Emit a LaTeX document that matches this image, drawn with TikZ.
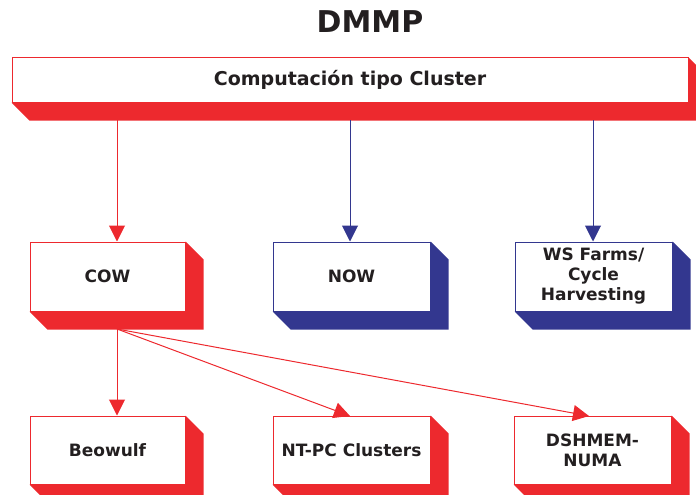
\documentclass[tikz,border=0pt]{standalone}
\usepackage{fontspec}
\setmainfont{DejaVu Sans}
\usetikzlibrary{calc,arrows.meta}
\definecolor{boxred}{RGB}{237,41,46}
\definecolor{boxblue}{RGB}{51,55,143}
\definecolor{ink}{RGB}{35,31,32}
\tikzstyle{rbox}=[draw=boxred,fill=white,line width=1pt,inner sep=0pt,align=center,font=\bfseries\fontsize{17}{20}\selectfont,text=ink]
\tikzstyle{bbox}=[rbox,draw=boxblue]
\tikzstyle{rarrow}=[draw=boxred,line width=1pt,-{Triangle[length=16pt,width=16pt]}]
\tikzstyle{barrow}=[rarrow,draw=boxblue]
% extrusion of a box, 18 px down and right
\newcommand{\depth}[2]{%
  \fill[#2] (#1.north east) -- ($(#1.north east)+(18,18)$) -- ($(#1.south east)+(18,18)$)
    -- ($(#1.south west)+(18,18)$) -- (#1.south west) -- (#1.south east) -- cycle;}

\begin{document}
\begin{tikzpicture}[x=1pt,y=-1pt]

      \useasboundingbox (0,0) rectangle (696,495);
      \clip (0,0) rectangle (696,495);

      \node (title) at (370,22) [font=\bfseries\fontsize{30}{36}\selectfont,text=ink] {DMMP};

      \node (cluster) at (350,80) [rbox,minimum width=676pt,minimum height=44pt,font=\bfseries\fontsize{19}{22}\selectfont] {Computación tipo Cluster};

      \node (cow) at (107.5,276.5) [rbox,minimum width=155pt,minimum height=69pt] {COW};
      \node (now) at (351.5,276.5) [bbox,minimum width=157pt,minimum height=69pt] {NOW};
      \node (ws) at (593.5,276.5) [bbox,minimum width=157pt,minimum height=69pt] {WS Farms/\\Cycle\\Harvesting};

      \node (beowulf) at (107.5,450) [rbox,minimum width=155pt,minimum height=68pt] {Beowulf};
      \node (ntpc) at (351.5,450) [rbox,minimum width=157pt,minimum height=68pt] {NT-PC Clusters};
      \node (numa) at (592.5,450) [rbox,minimum width=157pt,minimum height=68pt] {DSHMEM-\\NUMA};

      \depth{cluster}{boxred}
      \depth{cow}{boxred}
      \depth{now}{boxblue}
      \depth{ws}{boxblue}
      \depth{beowulf}{boxred}
      \depth{ntpc}{boxred}
      \depth{numa}{boxred}

      \coordinate (c1) at (117,120);
      \coordinate (c2) at (350,120);
      \coordinate (c3) at (593,120);
      \draw[rarrow] (c1) -- (c1 |- cow.north);
      \draw[barrow] (c2) -- (c2 |- now.north);
      \draw[barrow] (c3) -- (c3 |- ws.north);

      \coordinate (c) at (117,329);
      \coordinate (t2) at (350,416);
      \coordinate (t3) at (589,416);
      \draw[rarrow] (c) -- (c |- beowulf.north);
      \draw[rarrow] (c) -- (t2);
      \draw[rarrow] (c) -- (t3);

\end{tikzpicture}
\end{document}
